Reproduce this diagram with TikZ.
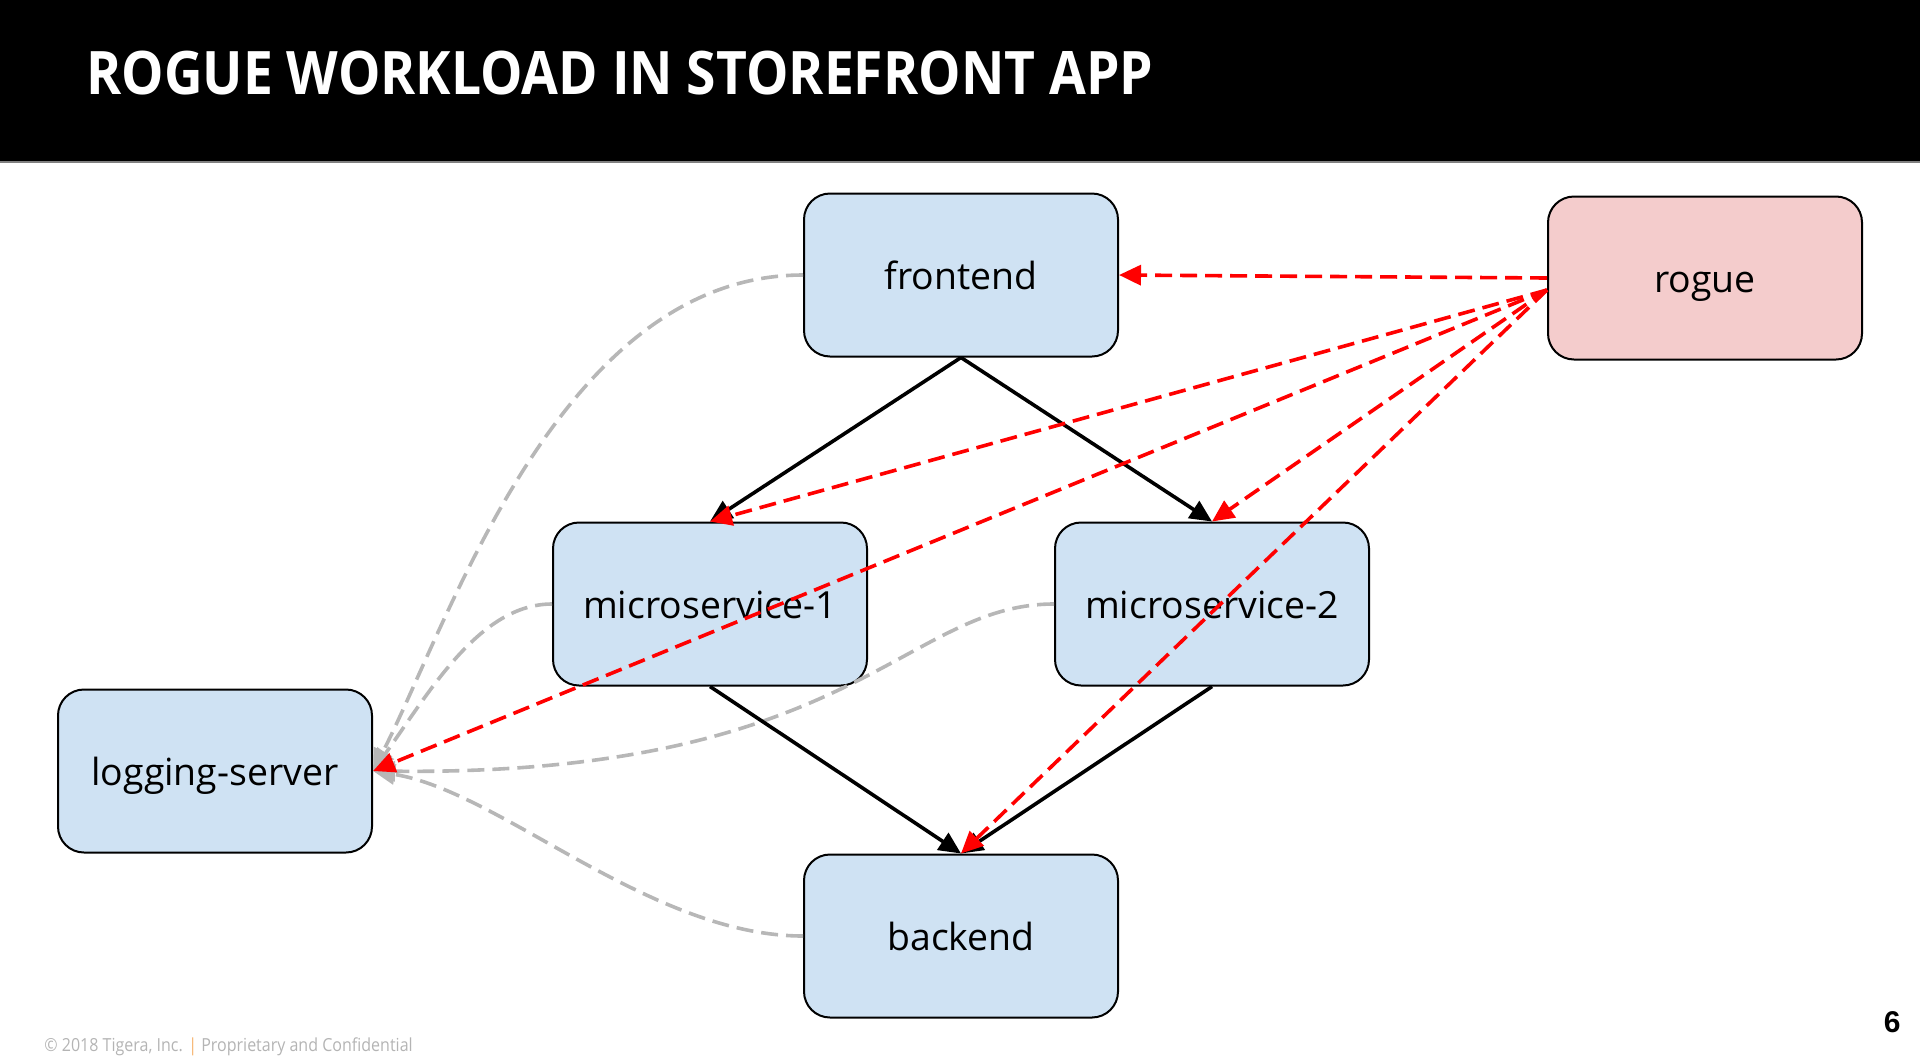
\documentclass[tikz,border=0pt]{standalone}
\usepackage{fontspec}
\setmainfont{Open Sans}
\newfontfamily\narrowfont[FakeStretch=0.89]{Open Sans}
\newfontfamily\pagefont{Liberation Sans}
\usepackage{tikz}
\usetikzlibrary{positioning,calc,arrows.meta}

\definecolor{boxblue}{HTML}{CFE2F3}
\definecolor{boxpink}{HTML}{F4CCCC}
\definecolor{loggray}{HTML}{B7B7B7}
\definecolor{footgray}{HTML}{B4B4B4}
\definecolor{footorange}{HTML}{F6B26B}

\tikzset{
    box/.style={draw=black, line width=1pt, rounded corners=13pt, fill=boxblue,
        minimum width=157pt, minimum height=81.5pt, inner sep=0pt,
        text height=15.5pt, text depth=1.5pt,
        font=\fontsize{18.7pt}{22pt}\selectfont},
    roguebox/.style={box, fill=boxpink},
    flow/.style={->, line width=1.8pt},
    attack/.style={->, red, line width=1.8pt, dash pattern=on 8.5pt off 4pt},
    logline/.style={->, loggray, line width=1.8pt, dash pattern=on 8.5pt off 4pt},
}

\begin{document}
\begin{tikzpicture}[x=0.5pt, y=-0.5pt, >={Triangle[length=11pt,width=10pt]}]
    \useasboundingbox (0,0) rectangle (1920,1055);
    % Title bar
    \fill[black] (0,0) rectangle (1920,163);
    \draw[gray, line width=1pt] (0,162) -- (1920,162);
    \node[anchor=base west, white, inner sep=0pt, font=\fontsize{30pt}{36pt}\narrowfont\bfseries] (title) at (86,94) {ROGUE WORKLOAD IN STOREFRONT APP};

    % Define nodes
    \node[box] (ms1) at (710,604) {microservice-1};
    \node[box] (ms2) [right=93pt of ms1] {microservice-2};
    \node[box] (frontend) [above=82pt of $(ms1.north)!0.5!(ms2.north)$] {frontend};
    \node[box] (backend) [below=83.5pt of $(ms1.south)!0.5!(ms2.south)$] {backend};
    \node[roguebox] (rogue) [right=214pt of frontend, yshift=-1.5pt] {rogue};
    \node[box] (logging) [below left=1pt and 89.5pt of ms1.south west] {logging-server};
    \coordinate (rg) at ($(rogue.west)+(0,12)$);

    % Draw log lines
    \draw[logline] (frontend.west) .. controls +(-243,0) and +(77,-150) .. (logging.east);
    \draw[logline] (ms1.west) .. controls +(-72,0) and +(57,-80) .. (logging.east);
    \draw[logline] (ms2.west) .. controls +(-150,0) and +(480,5) .. (logging.east);
    \draw[logline] (backend.west) .. controls +(-153,0) and +(127,20) .. (logging.east);

    % Draw arrows
    \draw[flow] (frontend.south) -- (ms1.north);
    \draw[flow] (frontend.south) -- (ms2.north);
    \draw[flow] (ms1.south) -- (backend.north);
    \draw[flow] (ms2.south) -- (backend.north);

    \draw[attack] (rogue.west) -- (frontend.east);
    \draw[attack] (rg) -- (ms1.north);
    \draw[attack] (rg) -- (logging.east);
    \draw[attack] (rg) -- (ms2.north);
    \draw[attack] (rg) -- (backend.north);

    % Footer
    \node[anchor=base west, inner sep=0pt, footgray, font=\fontsize{9pt}{11pt}\narrowfont] (foot) at (44,1051) {\textcopyright{} 2018 Tigera, Inc. \textcolor{footorange}{|} Proprietary and Confidential};
    \node[anchor=base east, inner sep=0pt, font=\fontsize{15pt}{18pt}\pagefont\bfseries] (page) at (1901,1032) {6};
\end{tikzpicture}
\end{document}
